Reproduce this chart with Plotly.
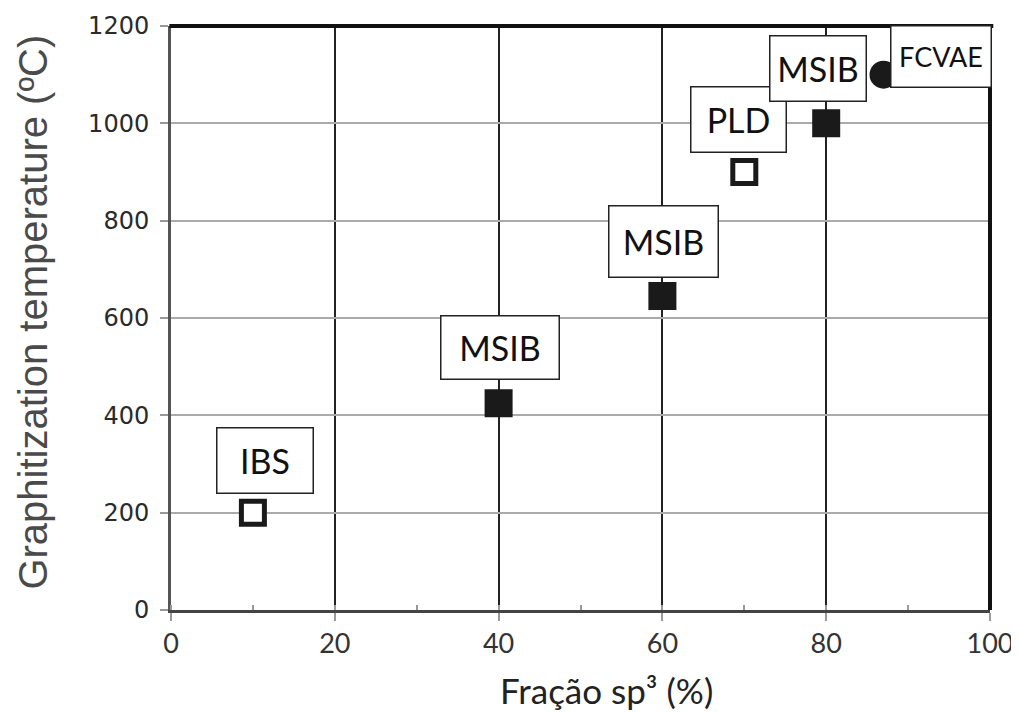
import plotly.graph_objects as go

# ---- data ----
sp3_fraction = [10, 40, 60, 70, 80, 87]
graph_temp = [200, 425, 645, 900, 1000, 1100]
method = ["IBS", "MSIB", "MSIB", "PLD", "MSIB", "FCVAE"]
marker_kind = ["open", "filled", "filled", "open", "filled", "circle"]
x_ticks = [0, 20, 40, 60, 80, 100]
y_ticks = [0, 200, 400, 600, 800, 1000, 1200]

# ---- label styling (pixel offsets from the point, box sizes) ----
label_style = [
    dict(dx=12, dy=52, w=97, h=66, fs=34),
    dict(dx=1, dy=56, w=119, h=64, fs=34),
    dict(dx=1, dy=55, w=110, h=72, fs=34),
    dict(dx=-6, dy=53, w=96, h=66, fs=34),
    dict(dx=-8, dy=55, w=97, h=66, fs=34),
    dict(dx=57, dy=18, w=101, h=62, fs=27),
]

fig = go.Figure()

for kind, sym, size, fill, lw in [
    ("open", "square", 23, "white", 5),
    ("filled", "square", 26, "#1a1a1a", 2),
    ("circle", "circle", 26, "#1a1a1a", 2),
]:
    xs = [x for x, k in zip(sp3_fraction, marker_kind) if k == kind]
    ys = [y for y, k in zip(graph_temp, marker_kind) if k == kind]
    fig.add_trace(go.Scatter(
        x=xs, y=ys, mode="markers", cliponaxis=False, showlegend=False,
        marker=dict(symbol=sym, size=size, color=fill,
                    line=dict(color="#1a1a1a", width=lw)),
    ))

# order: PLD before the MSIB at 80 so the latter sits on top
for i in range(len(method)):
    st = label_style[i]
    fig.add_annotation(
        x=sp3_fraction[i], y=graph_temp[i], xref="x", yref="y",
        text=method[i], showarrow=False,
        xshift=st["dx"], yshift=st["dy"],
        width=st["w"] - 2, height=st["h"] - 2,
        align="center", valign="middle",
        bgcolor="white", bordercolor="#222", borderwidth=1.5, borderpad=0,
        font=dict(family="Lato, Open Sans, sans-serif", size=st["fs"], color="#111"),
    )

# axis titles as paper-anchored text
fig.add_annotation(
    x=0.532, y=-0.137, xref="paper", yref="paper", showarrow=False,
    text="Fração sp³ (%)", xanchor="center", yanchor="middle",
    font=dict(family="Lato, Open Sans, sans-serif", size=35, color="#222"),
)
fig.add_annotation(
    x=-0.168, y=0.51, xref="paper", yref="paper", showarrow=False,
    text="Graphitization temperature (ºC)", textangle=-90,
    xanchor="center", yanchor="middle",
    font=dict(family="Liberation Sans, Arial, sans-serif", size=40, color="#4a4a4a"),
)

# heavy top and right frame lines
fig.add_shape(type="line", xref="paper", yref="paper", x0=-0.002, x1=1.004, y0=1, y1=1,
              line=dict(color="#111", width=4), layer="above")
fig.add_shape(type="line", xref="paper", yref="paper", x0=1, x1=1, y0=0, y1=1,
              line=dict(color="#111", width=4), layer="above")

# page body has an 8px margin, so plot area is offset by -8px in figure coords
fig.update_layout(
    width=1019, height=713,
    margin=dict(l=163, r=37, t=18, b=111),
    paper_bgcolor="white", plot_bgcolor="white",
    xaxis=dict(
        range=[0, 100], tickvals=x_ticks, ticktext=[str(v) for v in x_ticks],
        automargin=False,
        showgrid=True, gridcolor="#222", gridwidth=1.5,
        showline=True, linecolor="#444", linewidth=3,
        ticks="outside", ticklen=8, tickcolor="#999", tickwidth=1.5,
        minor=dict(ticks="inside", dtick=10, tick0=0, ticklen=5, tickcolor="#999", tickwidth=1.5, showgrid=False),
        tickfont=dict(family="Lato, Open Sans, sans-serif", size=27, color="#333"),
        zeroline=False,
    ),
    yaxis=dict(
        range=[0, 1200], tickvals=y_ticks, ticktext=[str(v) for v in y_ticks],
        automargin=False,
        showgrid=True, gridcolor="#aaa", gridwidth=1.5,
        showline=True, linecolor="#555", linewidth=3,
        ticks="outside", ticklen=8, tickcolor="#999", tickwidth=1.5,
        ticklabelstandoff=6,
        tickfont=dict(family="DejaVu Sans, sans-serif", size=24, color="#2a2a2a"),
        zeroline=False,
    ),
)

fig.write_html("out.html")
